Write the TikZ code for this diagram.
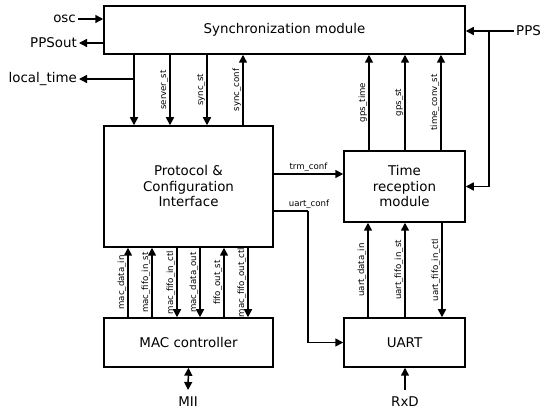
\documentclass[tikz,border=0pt]{standalone}
\usepackage{fontspec}
\setmainfont{DejaVu Sans}
\usetikzlibrary{arrows.meta}
\begin{document}
\begin{tikzpicture}[x=1pt,y=-1pt,
  box/.style={draw,line width=1.5pt,rectangle,inner sep=0pt,align=center,
    font=\fontsize{13.4}{15.5}\selectfont},
  arr/.style={line width=1.5pt,-{Triangle[length=8pt,width=8pt]}},
  darr/.style={line width=1.5pt,{Triangle[length=8pt,width=8pt]}-{Triangle[length=8pt,width=8pt]}},
  ln/.style={line width=1.5pt},
  lab/.style={rotate=90,anchor=south,inner sep=1.2pt,font=\fontsize{8.6}{10}\selectfont},
  hlab/.style={above,inner sep=1.5pt,font=\fontsize{8.6}{10}\selectfont},
  io/.style={inner sep=2pt,font=\fontsize{13.4}{15.5}\selectfont}]
\useasboundingbox (0,0) rectangle (550,414);

\node[box,minimum width=361pt,minimum height=48pt] (sync) at (284.5,30) {Synchronization module};
\node[box,minimum width=169pt,minimum height=121pt] (proto) at (188.5,186.5) {Protocol \&\\Configuration\\Interface};
\node[box,minimum width=121pt,minimum height=71pt] (trm) at (404.5,186.5) {Time\\reception\\module};
\node[box,minimum width=169pt,minimum height=49pt] (mac) at (188.5,342.5) {MAC controller};
\node[box,minimum width=121pt,minimum height=49pt] (uart) at (404.5,342.5) {UART};

% external signals
\node[io,anchor=east] (osc) at (78,19) {osc};
\node[io,anchor=east] (ppsout) at (79,43) {PPSout};
\node[io,anchor=east] (lt) at (79,79) {local\_time};
\node[io,anchor=west] (pps) at (514,31) {PPS};
\node[io] (mii) at (188,402) {MII};
\node[io] (rxd) at (405,402) {RxD};

\coordinate (ltj) at (134,79);
\coordinate (ppsj) at (489,31);
\coordinate (ucj) at (308,211);
\coordinate (miie) at (188,390);
\coordinate (rxde) at (405,390);

\draw[arr] (osc.east) -- (osc.east -| sync.west);
\draw[arr] (ppsout.east -| sync.west) -- (ppsout.east);
\draw[arr] (ltj) -- (lt.east);
\draw[arr] (pps.west) -- (pps.west -| sync.east);
\draw[arr] (ppsj) |- (trm.east);

% sync <-> protocol
\draw[arr] (sync.south -| 134,0) -- (proto.north -| 134,0);
\draw[arr] (sync.south -| 170,0) -- node[lab]{server\_st} (proto.north -| 170,0);
\draw[arr] (sync.south -| 207,0) -- node[lab]{sync\_st} (proto.north -| 207,0);
\draw[arr] (proto.north -| 243,0) -- node[lab]{sync\_conf} (sync.south -| 243,0);

% time reception -> sync
\draw[arr] (trm.north -| 369,0) -- node[lab]{gps\_time} (sync.south -| 369,0);
\draw[arr] (trm.north -| 405,0) -- node[lab]{gps\_st} (sync.south -| 405,0);
\draw[arr] (trm.north -| 441,0) -- node[lab]{time\_conv\_st} (sync.south -| 441,0);

% protocol -> time reception / uart
\draw[arr] (proto.east |- 0,174) -- node[hlab]{trm\_conf} (trm.west |- 0,174);
\draw[ln] (proto.east |- ucj) -- (ucj) node[hlab,pos=1,xshift=1pt]{uart\_conf};
\draw[arr] (ucj) |- (uart.west);

% uart <-> time reception
\draw[arr] (uart.north -| 368,0) -- node[lab]{uart\_data\_in} (trm.south -| 368,0);
\draw[arr] (uart.north -| 405,0) -- node[lab]{uart\_fifo\_in\_st} (trm.south -| 405,0);
\draw[arr] (trm.south -| 442,0) -- node[lab]{uart\_fifo\_in\_ctl} (uart.north -| 442,0);

% mac <-> protocol
\draw[arr] (mac.north -| 128,0) -- node[lab]{mac\_data\_in} (proto.south -| 128,0);
\draw[arr] (mac.north -| 152,0) -- node[lab]{mac\_fifo\_in\_st} (proto.south -| 152,0);
\draw[arr] (proto.south -| 177,0) -- node[lab]{mac\_fifo\_in\_ctl} (mac.north -| 177,0);
\draw[arr] (proto.south -| 200,0) -- node[lab]{mac\_data\_out} (mac.north -| 200,0);
\draw[arr] (mac.north -| 224,0) -- node[lab]{fifo\_out\_st} (proto.south -| 224,0);
\draw[arr] (proto.south -| 248,0) -- node[lab]{mac\_fifo\_out\_ctl} (mac.north -| 248,0);

% bottom I/O
\draw[darr] (mac.south) -- (miie);
\draw[arr] (rxde) -- (uart.south -| rxde);
\end{tikzpicture}
\end{document}
